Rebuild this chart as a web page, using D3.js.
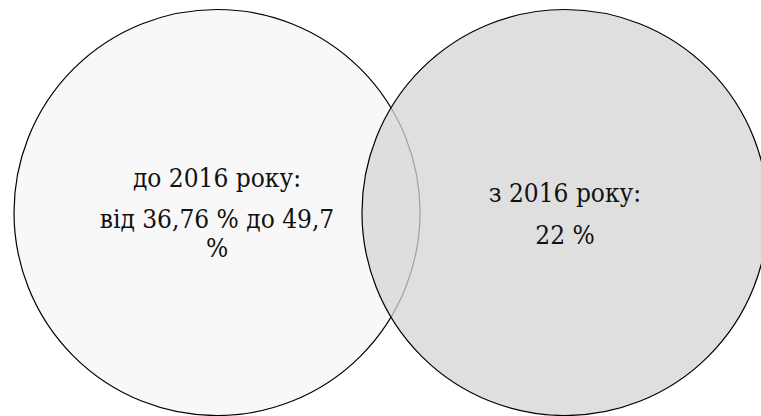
<!DOCTYPE html>
<html>
<head>
<meta charset="utf-8">
<script src="https://cdn.jsdelivr.net/npm/d3@7.9.0/dist/d3.min.js"></script>
<style>
  html, body { margin: 0; padding: 0; background: #fff; }
  svg { display: block; }
  text { font-family: 'DejaVu Serif Condensed', 'DejaVu Serif', serif; font-stretch: condensed; }
</style>
</head>
<body>
<svg width="761" height="416"></svg>
<script>
// two sets of equal size, distance between centres in radius units
const setNames = ['до 2016 року', 'з 2016 року'];
const setSizes = [1, 1];
const centerOffsets = [0, 1.714];
const setLabels = [
  ['до 2016 року:', 'від 36,76 % до 49,7', '%'],
  ['з 2016 року:', '22 %']
];
const setFills = ['#f8f8f8', '#d5d5d5'];

const svg = d3.select('svg');

const x = d3.scaleLinear().domain([-1, 1 + 1.714]).range([14, 768]);
const cy = 212.5;
const r = d => x(d) - x(0);

const sets = setNames.map((name, i) => ({
  name,
  size: setSizes[i],
  offset: centerOffsets[i],
  lines: setLabels[i],
  fill: setFills[i]
}));

svg.selectAll('circle.set')
  .data(sets)
  .join('circle')
  .attr('class', 'set')
  .attr('cx', d => x(d.offset))
  .attr('cy', cy)
  .attr('r', d => r(d.size))
  .attr('fill', d => d.fill)
  .attr('fill-opacity', (d, i) => i === 0 ? 1 : 0.76)
  .attr('stroke', '#000')
  .attr('stroke-width', 1.2);

// label baselines, relative to circle centre
const lineDy = {
  0: [-25.5, 15.5, 44.5],
  1: [-10.5, 31.5]
};

sets.forEach((s, i) => {
  svg.append('text')
    .attr('x', x(s.offset))
    .attr('text-anchor', 'middle')
    .attr('font-size', 26)
    .attr('fill', '#111')
    .selectAll('tspan')
    .data(s.lines)
    .join('tspan')
    .attr('x', x(s.offset))
    .attr('y', (d, j) => cy + lineDy[i][j])
    .text(d => d);
});
</script>
</body>
</html>
